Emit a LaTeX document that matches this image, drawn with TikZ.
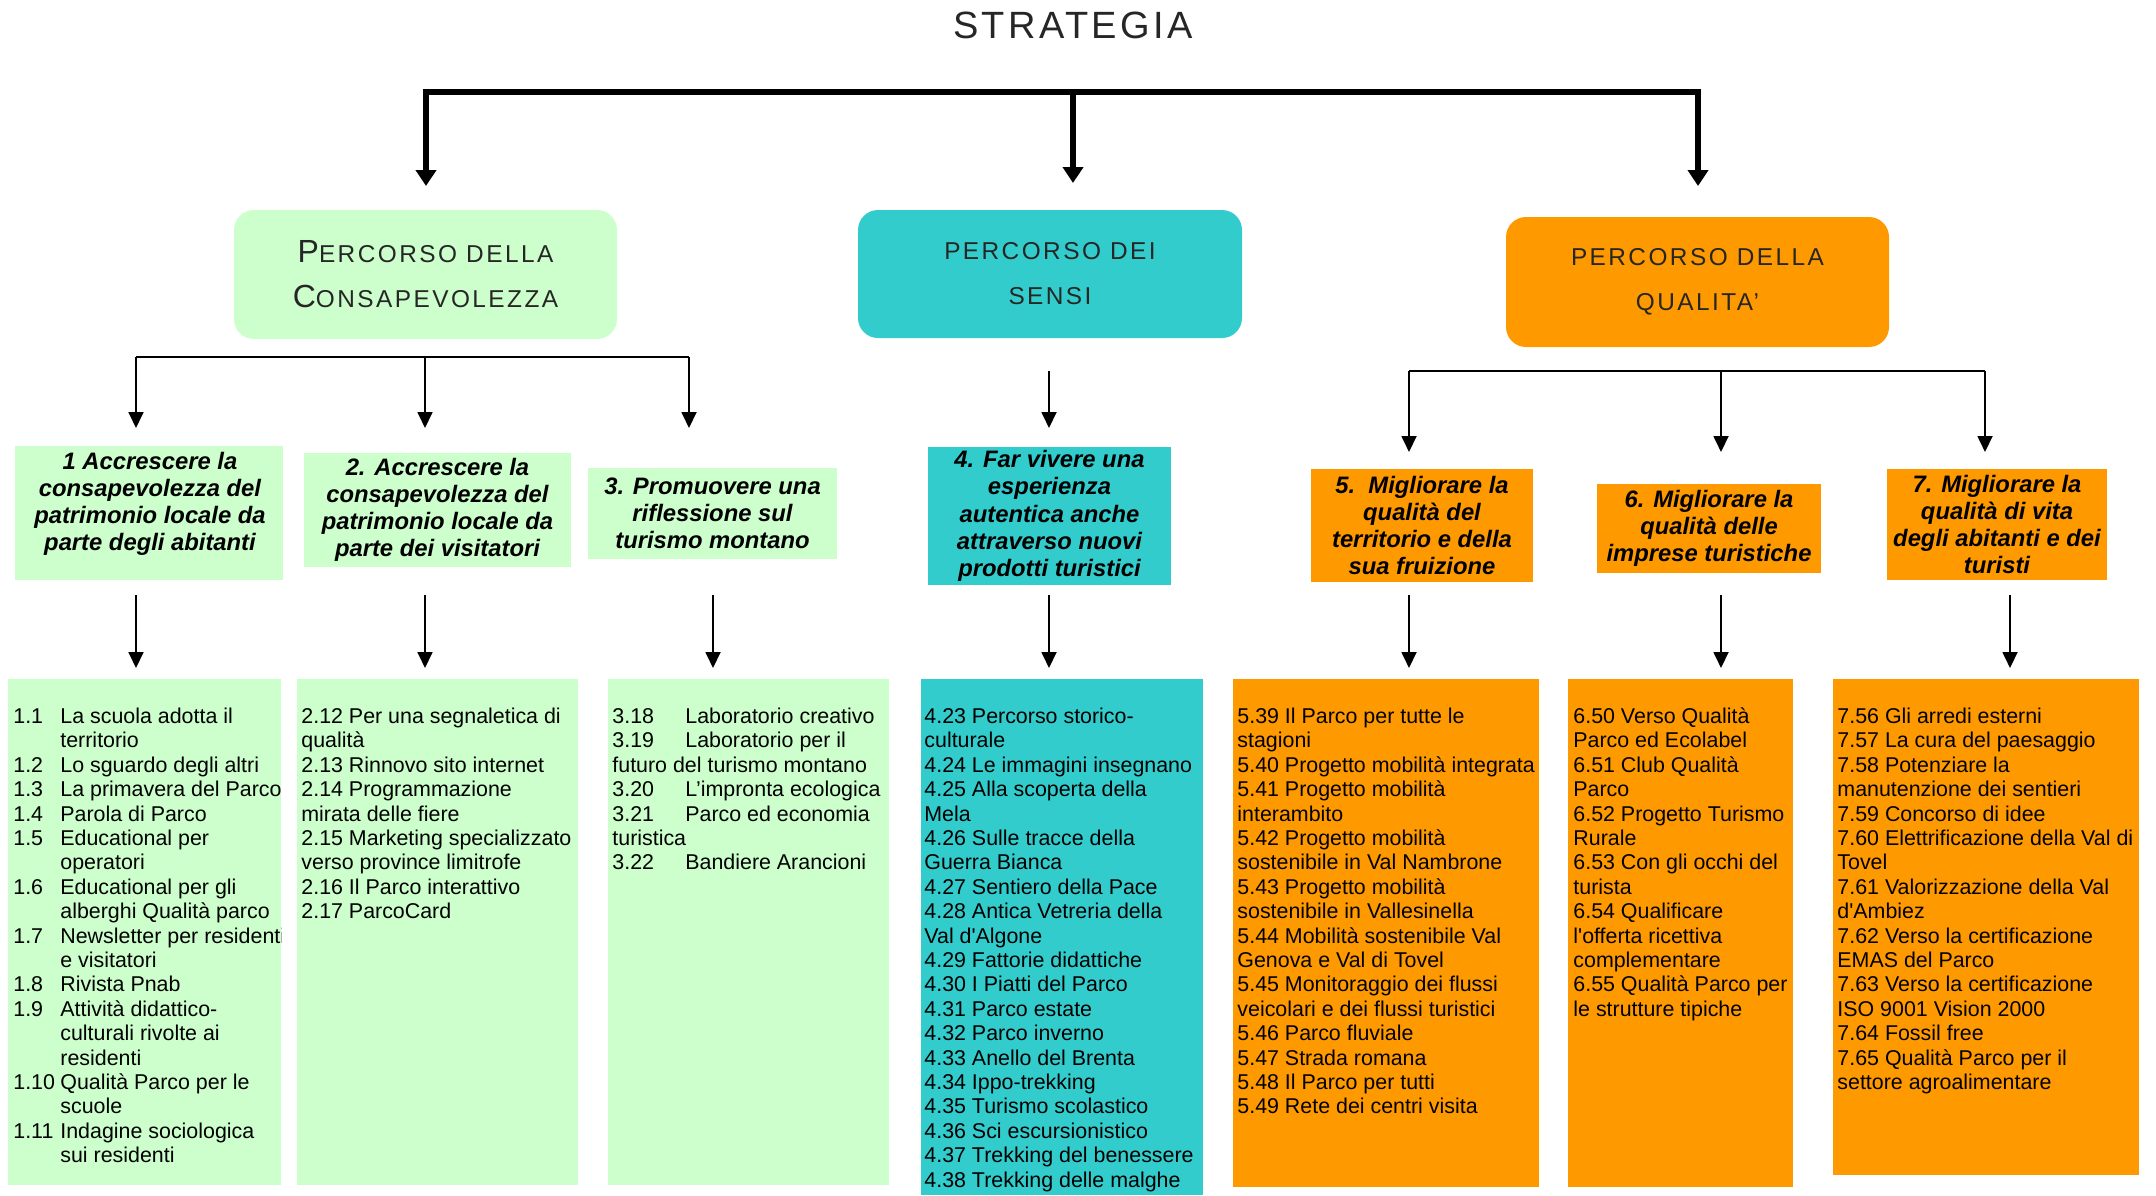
\documentclass[tikz,border=0pt]{standalone}
\usepackage{fontspec}
\setmainfont{Liberation Sans}
\newfontfamily\headfont[LetterSpace=10]{Liberation Sans}
\newfontfamily\titlefont[LetterSpace=9]{Liberation Sans}
\usetikzlibrary{arrows.meta}
\definecolor{lgreen}{HTML}{CCFFCC}
\definecolor{tealc}{HTML}{33CCCC}
\definecolor{orangec}{HTML}{FF9900}
\newcommand\bigC[1]{{\fontsize{16}{22.5}\selectfont #1}}
\newcommand\nA[1]{\makebox[23.5pt][l]{#1}}
\newcommand\nB[1]{\makebox[36.5pt][l]{#1}}
\newcommand\ind{\hspace*{23.5pt}}
\newcommand\fst{\rule{0pt}{9pt}}
\begin{document}
\begin{tikzpicture}[x=0.5pt,y=-0.5pt,
  headbox/.style={rounded corners=10pt, inner sep=0pt, align=center,
    font=\headfont\fontsize{12.2}{22.5}\selectfont, text=black!85},
  goalbox/.style={inner sep=0pt, align=center,
    font=\fontsize{11.9}{13.6}\selectfont\bfseries\itshape},
  listbox/.style={inner sep=0pt, anchor=north west, minimum width=0pt},
  listtext/.style={inner sep=0pt, anchor=north west, align=left,
    font=\fontsize{10.7}{12.2}\selectfont},
  bigarrow/.style={line width=3pt, -{Triangle[length=8pt,width=10pt]}},
  thinarrow/.style={line width=0.9pt, -{Triangle[length=8pt,width=7.5pt]}},
  thinline/.style={line width=1.2pt}]
\useasboundingbox (0,0) rectangle (2156,1195);

% title
\node[inner sep=0pt, font=\titlefont\fontsize{19}{22}\selectfont, text=black!85] (title) at (1073,25) {STRATEGIA};

% level 1
\node[headbox, fill=lgreen, minimum width=191.5pt, minimum height=64.5pt] (pA) at (425.5,274.5)
  {\bigC{P}ERCORSO DELLA\\\bigC{C}ONSAPEVOLEZZA};
\node[headbox, fill=tealc, minimum width=192pt, minimum height=64pt] (pB) at (1050,274)
  {PERCORSO DEI\\SENSI};
\node[headbox, fill=orangec, minimum width=191.5pt, minimum height=65pt] (pC) at (1697.5,282)
  {PERCORSO DELLA\\QUALITA’};

\coordinate (barL) at (426,92);
\coordinate (barM) at (1073,92);
\coordinate (barR) at (1698,92);
\coordinate (tA) at (426,186);
\coordinate (tB) at (1073,183);
\coordinate (tC) at (1698,186);
\draw[line width=3pt, line cap=rect] (barL) -- (barR);
\draw[bigarrow] (barL) -- (tA);
\draw[bigarrow] (barM) -- (tB);
\draw[bigarrow] (barR) -- (tC);

% level 2 connectors
\coordinate (hAL) at (136,357);
\coordinate (hAM) at (425,357);
\coordinate (hAR) at (689,357);
\coordinate (a1) at (136,428);
\coordinate (a2) at (425,428);
\coordinate (a3) at (689,428);
\draw[thinline] (hAL) -- (hAR);
\draw[thinarrow] (hAL) -- (a1);
\draw[thinarrow] (hAM) -- (a2);
\draw[thinarrow] (hAR) -- (a3);
\coordinate (hB) at (1049,371);
\coordinate (a4) at (1049,428);
\draw[thinarrow] (hB) -- (a4);
\coordinate (hCL) at (1409,371);
\coordinate (hCM) at (1721,371);
\coordinate (hCR) at (1985,371);
\coordinate (a5) at (1409,452);
\coordinate (a6) at (1721,452);
\coordinate (a7) at (1985,452);
\draw[thinline] (hCL) -- (hCR);
\draw[thinarrow] (hCL) -- (a5);
\draw[thinarrow] (hCM) -- (a6);
\draw[thinarrow] (hCR) -- (a7);

% level 2 boxes
\node[goalbox, fill=lgreen, minimum width=134pt, minimum height=67pt] (b1) at (149,513) {};
\node[goalbox] (b1t) at (150,504) {1 Accrescere la\\consapevolezza del\\patrimonio locale da\\parte degli abitanti};
\node[goalbox, fill=lgreen, minimum width=133.5pt, minimum height=57pt] (b2) at (437.5,510)
  {2. Accrescere la\\consapevolezza del\\patrimonio locale da\\parte dei visitatori};
\node[goalbox, fill=lgreen, minimum width=124.5pt, minimum height=45.5pt] (b3) at (712.5,513.5)
  {3. Promuovere una\\riflessione sul\\turismo montano};
\node[goalbox, fill=tealc, minimum width=121.5pt, minimum height=69pt] (b4) at (1049.5,516)
  {4. Far vivere una\\esperienza\\autentica anche\\attraverso nuovi\\prodotti turistici};
\node[goalbox, fill=orangec, minimum width=111pt, minimum height=56.5pt] (b5) at (1422,525.5)
  {5.\ \ Migliorare la\\qualità del\\territorio e della\\sua fruizione};
\node[goalbox, fill=orangec, minimum width=112pt, minimum height=44.5pt] (b6) at (1709,528.5)
  {6. Migliorare la\\qualità delle\\imprese turistiche};
\node[goalbox, fill=orangec, minimum width=110pt, minimum height=55.5pt] (b7) at (1997,524.5)
  {7. Migliorare la\\qualità di vita\\degli abitanti e dei\\turisti};

% level 3 arrows
\foreach \i/\x in {1/136,2/425,3/713,4/1049,5/1409,6/1721,7/2010}{
  \coordinate (s\i) at (\x,595);
  \coordinate (e\i) at (\x,668);
  \draw[thinarrow] (s\i) -- (e\i);
}

% list boxes
\node[listbox, fill=lgreen, minimum width=136.5pt, minimum height=253pt] (L1) at (8,679) {};
\node[listbox, fill=lgreen, minimum width=140.5pt, minimum height=253pt] (L2) at (297,679) {};
\node[listbox, fill=lgreen, minimum width=140.5pt, minimum height=253pt] (L3) at (608,679) {};
\node[listbox, fill=tealc, minimum width=141pt, minimum height=258pt] (L4) at (921,679) {};
\node[listbox, fill=orangec, minimum width=153pt, minimum height=254pt] (L5) at (1233,679) {};
\node[listbox, fill=orangec, minimum width=112.5pt, minimum height=254pt] (L6) at (1568,679) {};
\node[listbox, fill=orangec, minimum width=153pt, minimum height=248pt] (L7) at (1833,679) {};

\begin{scope}
\clip (L1.north west) rectangle (L1.south east);
\node[listtext] (T1) at (13,705) {\fst\nA{1.1}La scuola adotta il\\
\ind territorio\\
\nA{1.2}Lo sguardo degli altri\\
\nA{1.3}La primavera del Parco\\
\nA{1.4}Parola di Parco\\
\nA{1.5}Educational per\\
\ind operatori\\
\nA{1.6}Educational per gli\\
\ind alberghi Qualità parco\\
\nA{1.7}Newsletter per residenti\\
\ind e visitatori\\
\nA{1.8}Rivista Pnab\\
\nA{1.9}Attività didattico-\\
\ind culturali rivolte ai\\
\ind residenti\\
\nA{1.10}Qualità Parco per le\\
\ind scuole\\
\nA{1.11}Indagine sociologica\\
\ind sui residenti};
\end{scope}

\node[listtext] (T2) at (301,705) {\fst 2.12 Per una segnaletica di\\
qualità\\
2.13 Rinnovo sito internet\\
2.14 Programmazione\\
mirata delle fiere\\
2.15 Marketing specializzato\\
verso province limitrofe\\
2.16 Il Parco interattivo\\
2.17 ParcoCard};

\node[listtext] (T3) at (612,705) {\fst\nB{3.18}Laboratorio creativo\\
\nB{3.19}Laboratorio per il\\
futuro del turismo montano\\
\nB{3.20}L’impronta ecologica\\
\nB{3.21}Parco ed economia\\
turistica\\
\nB{3.22}Bandiere Arancioni};

\node[listtext] (T4) at (924,705) {\fst 4.23 Percorso storico-\\
culturale\\
4.24 Le immagini insegnano\\
4.25 Alla scoperta della\\
Mela\\
4.26 Sulle tracce della\\
Guerra Bianca\\
4.27 Sentiero della Pace\\
4.28 Antica Vetreria della\\
Val d\textquotesingle Algone\\
4.29 Fattorie didattiche\\
4.30 I Piatti del Parco\\
4.31 Parco estate\\
4.32 Parco inverno\\
4.33 Anello del Brenta\\
4.34 Ippo-trekking\\
4.35 Turismo scolastico\\
4.36 Sci escursionistico\\
4.37 Trekking del benessere\\
4.38 Trekking delle malghe};

\node[listtext] (T5) at (1237,705) {\fst 5.39 Il Parco per tutte le\\
stagioni\\
5.40 Progetto mobilità integrata\\
5.41 Progetto mobilità\\
interambito\\
5.42 Progetto mobilità\\
sostenibile in Val Nambrone\\
5.43 Progetto mobilità\\
sostenibile in Vallesinella\\
5.44 Mobilità sostenibile Val\\
Genova e Val di Tovel\\
5.45 Monitoraggio dei flussi\\
veicolari e dei flussi turistici\\
5.46 Parco fluviale\\
5.47 Strada romana\\
5.48 Il Parco per tutti\\
5.49 Rete dei centri visita};

\node[listtext] (T6) at (1573,705) {\fst 6.50 Verso Qualità\\
Parco ed Ecolabel\\
6.51 Club Qualità\\
Parco\\
6.52 Progetto Turismo\\
Rurale\\
6.53 Con gli occhi del\\
turista\\
6.54 Qualificare\\
l\textquotesingle offerta ricettiva\\
complementare\\
6.55 Qualità Parco per\\
le strutture tipiche};

\node[listtext] (T7) at (1837,705) {\fst 7.56 Gli arredi esterni\\
7.57 La cura del paesaggio\\
7.58 Potenziare la\\
manutenzione dei sentieri\\
7.59 Concorso di idee\\
7.60 Elettrificazione della Val di\\
Tovel\\
7.61 Valorizzazione della Val\\
d\textquotesingle Ambiez\\
7.62 Verso la certificazione\\
EMAS del Parco\\
7.63 Verso la certificazione\\
ISO 9001 Vision 2000\\
7.64 Fossil free\\
7.65 Qualità Parco per il\\
settore agroalimentare};
\end{tikzpicture}
\end{document}
